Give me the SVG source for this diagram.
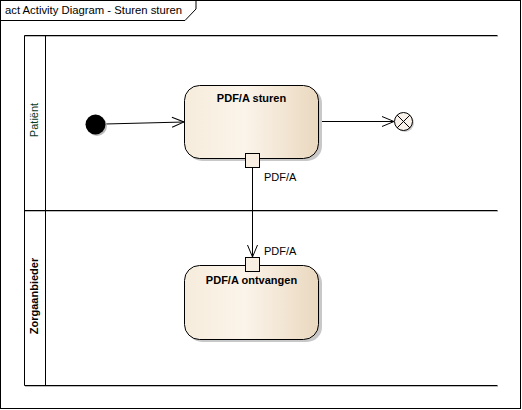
<svg xmlns="http://www.w3.org/2000/svg" width="522" height="410" viewBox="0 0 522 410">
<defs>
<linearGradient id="act" x1="0" y1="0" x2="1" y2="0">
<stop offset="0" stop-color="#f6ecdc"/>
<stop offset="0.45" stop-color="#fbf4ea"/>
<stop offset="1" stop-color="#ead8bf"/>
</linearGradient>
<marker id="open" markerWidth="14" markerHeight="12" refX="13" refY="6" orient="auto" markerUnits="userSpaceOnUse">
<path d="M1,1 L13,6 L1,11" fill="none" stroke="#000" stroke-width="1"/>
</marker>
</defs>
<style>
.frame{fill:#fff;stroke:#000;stroke-width:1}
.ln{stroke:#000;stroke-width:1;fill:none}
.sh{stroke:#bbb;stroke-width:1;fill:none}
.act{fill:url(#act);stroke:#000;stroke-width:1}
.ash{fill:#c8c8c8}
.pin{fill:#f8efe2;stroke:#000;stroke-width:1}
.t{font-family:"Liberation Sans",Arial,sans-serif;font-size:11px;fill:#000}
.b{font-weight:bold}
.conn{stroke:#000;stroke-width:1;fill:none}
</style>
<g id="frame">
<rect class="frame" x="0.5" y="0.5" width="520" height="408"/>
<path class="ln" d="M0.5,20.5 H185 L196,9 V0.5"/>
<text class="t" x="5" y="14" style="font-size:11.3px">act Activity Diagram - Sturen sturen</text>
</g>
<g id="lanes">
<path class="sh" d="M25,36.5 H498 M25,211.5 H498 M25,386.5 H498"/>
<path class="ln" d="M24.5,35.5 H497.5 M24.5,210.5 H497.5 M24.5,385.5 H497.5 M24.5,35.5 V385.5 M45.5,35.5 V385.5"/>
</g>
<g id="lane-patient">
<text class="t" style="fill:#063a28" transform="translate(38,120) rotate(-90)" text-anchor="middle">Patiënt</text>
</g>
<g id="lane-zorgaanbieder">
<text class="t b" transform="translate(38,296) rotate(-90)" text-anchor="middle">Zorgaanbieder</text>
</g>
<g id="connectors">
<path class="conn" d="M105,124 L184,122" marker-end="url(#open)"/>
<path class="conn" d="M319,121.5 L394,121.5" marker-end="url(#open)"/>
<path class="conn" d="M252.5,167 L252.5,257" marker-end="url(#open)"/>
</g>
<g id="initial">
<circle cx="97" cy="126" r="10" fill="#bbb"/>
<circle cx="95.5" cy="124.5" r="10" fill="#000"/>
</g>
<g id="final">
<circle cx="405" cy="123" r="9" fill="#ccc"/>
<circle cx="403.5" cy="121.5" r="9" fill="#f8f2ea" stroke="#000"/>
<path class="ln" d="M397.1,115.1 L409.9,127.9 M409.9,115.1 L397.1,127.9"/>
</g>
<g id="action-sturen">
<rect class="ash" x="187" y="88" width="135" height="73" rx="15"/>
<rect class="act" x="184.5" y="85.5" width="134" height="73" rx="15"/>
<text class="t b" x="251.5" y="102" text-anchor="middle">PDF/A sturen</text>
<rect class="pin" x="245.5" y="153.5" width="14" height="14"/>
<text class="t" x="264" y="181">PDF/A</text>
</g>
<g id="action-ontvangen">
<rect class="ash" x="187" y="268" width="135" height="74" rx="15"/>
<rect class="act" x="184.5" y="265.5" width="134" height="74" rx="15"/>
<text class="t b" x="251.5" y="284" text-anchor="middle">PDF/A ontvangen</text>
<rect class="pin" x="245.5" y="257.5" width="14" height="14"/>
<text class="t" x="264" y="255">PDF/A</text>
</g>
</svg>
